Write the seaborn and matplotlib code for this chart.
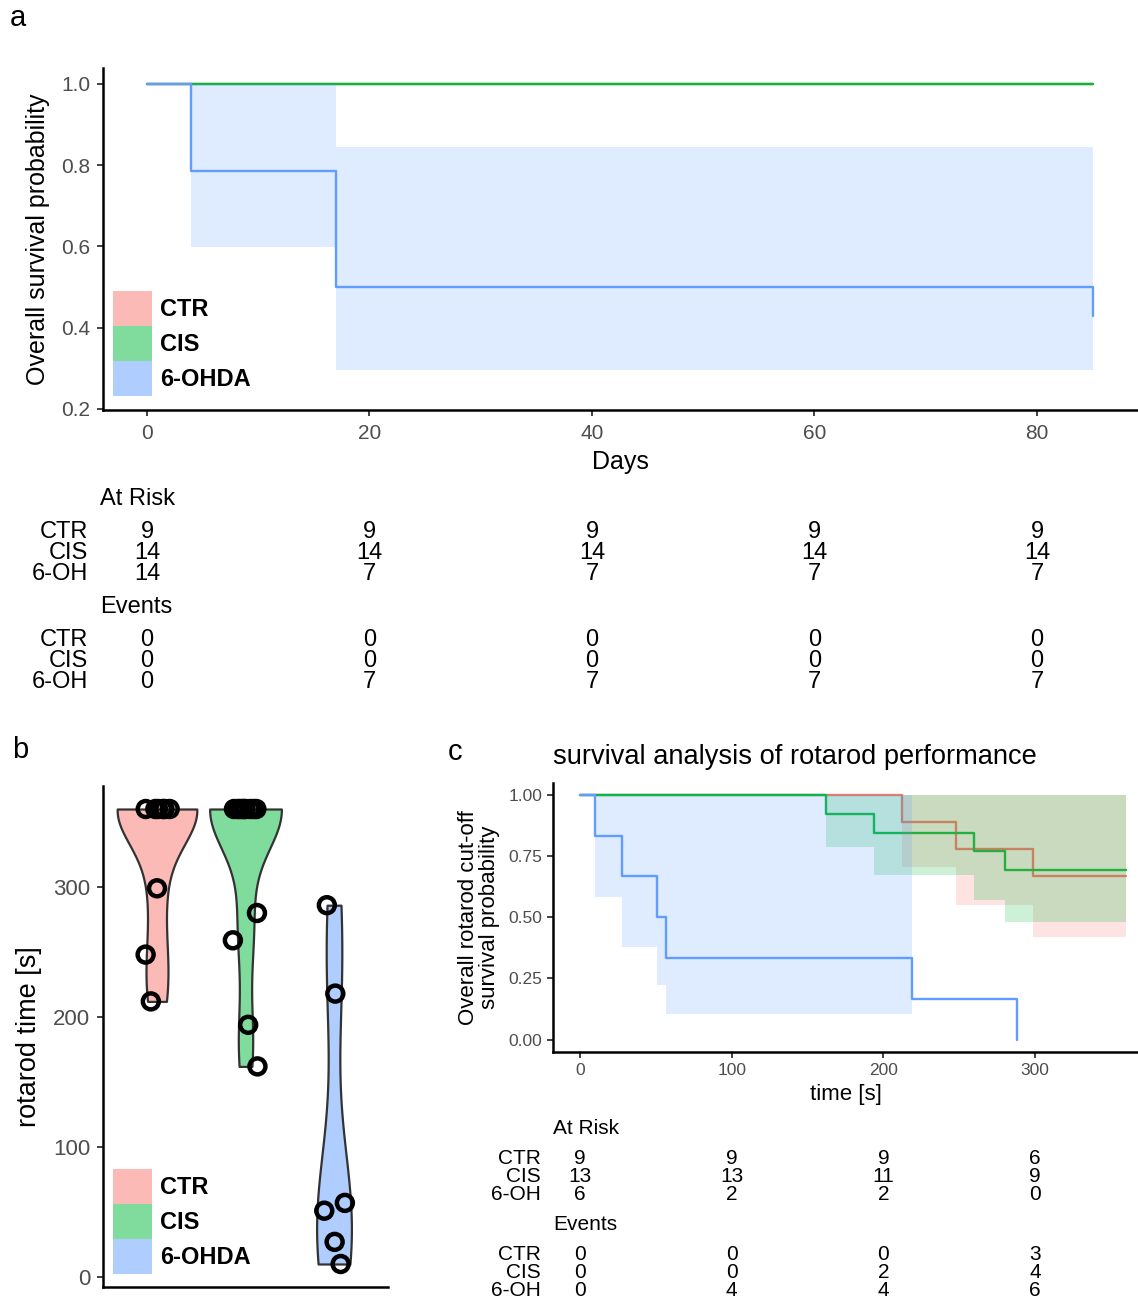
import matplotlib
matplotlib.use("Agg")
import matplotlib.pyplot as plt
import matplotlib.transforms as mtrans
from matplotlib.patches import Patch
import numpy as np
import pandas as pd
import seaborn as sns

# ── Data ─────────────────────────────────────────────────────────────────────
GROUPS = ["CTR", "CIS", "6-OHDA"]
ROW_LABELS = ["CTR", "CIS", "6-OH"]
LINE_COLORS = ["#F8766D", "#00BA38", "#619CFF"]
SOFT_COLORS = ["#FBBAB6", "#80DC9C", "#B0CDFF"]   # legend / violin fills

# (a) overall survival, days
a_ctr_t, a_ctr_s = [0, 85], [1.0, 1.0]
a_cis_t, a_cis_s = [0, 85], [1.0, 1.0]
a_ohda_t, a_ohda_s = [0, 4, 17, 85], [1.0, 0.786, 0.5, 0.429]
a_ohda_lo = [1.0, 0.598, 0.296, 0.296]
a_ohda_up = [1.0, 1.0, 0.845, 0.845]
a_ticks = [0, 20, 40, 60, 80]
a_risk = [[9, 9, 9, 9, 9], [14, 14, 14, 14, 14], [14, 7, 7, 7, 7]]
a_events = [[0, 0, 0, 0, 0], [0, 0, 0, 0, 0], [0, 7, 7, 7, 7]]

# (b) rotarod time per animal [s]
ctr_times = [360, 360, 360, 360, 360, 360, 299, 248, 212]
cis_times = [360, 360, 360, 360, 360, 360, 360, 360, 360, 280, 259, 194, 162]
ohda_times = [286, 218, 57, 51, 27, 10]

# (c) rotarod cut-off survival
c_ctr_t = [0, 212, 248, 299, 360]
c_ctr_s = [1.0, 0.889, 0.778, 0.667, 0.667]
c_ctr_lo = [1.0, 0.707, 0.550, 0.420, 0.420]
c_cis_t = [0, 162, 194, 260, 280, 360]
c_cis_s = [1.0, 0.923, 0.846, 0.769, 0.692, 0.692]
c_cis_lo = [1.0, 0.789, 0.673, 0.570, 0.482, 0.482]
c_ohda_t = [0, 10, 28, 51, 57, 219, 288]
c_ohda_s = [1.0, 0.833, 0.667, 0.5, 0.333, 0.167, 0.0]
c_ohda_ci_t = [0, 10, 28, 51, 57, 219]
c_ohda_lo = [1.0, 0.584, 0.379, 0.225, 0.106, 0.106]
c_ticks = [0, 100, 200, 300]
c_risk = [[9, 9, 9, 6], [13, 13, 11, 9], [6, 2, 2, 0]]
c_events = [[0, 0, 0, 3], [0, 0, 2, 4], [0, 4, 4, 6]]

# ── Style ────────────────────────────────────────────────────────────────────
sns.set_style("ticks")
plt.rcParams["font.family"] = ["Liberation Sans", "DejaVu Sans"]
plt.rcParams["text.color"] = "black"
plt.rcParams["axes.labelcolor"] = "black"
TICK_GREY = "#4D4D4D"

W, H = 1138, 1303
fig = plt.figure(figsize=(W / 100, H / 100), dpi=100)


def fx(px):
    return px / W


def fy(py):
    return 1 - py / H


def style_ax(ax, tick_size, xpad, ypad):
    sns.despine(ax=ax)
    for s in ("left", "bottom"):
        ax.spines[s].set_linewidth(1.8)
        ax.spines[s].set_color("black")
    ax.tick_params(length=4, width=1.3, color="#333333", labelcolor=TICK_GREY,
                   labelsize=tick_size)
    ax.tick_params(axis="x", pad=xpad)
    ax.tick_params(axis="y", pad=ypad)


def km_lines(ax, steps):
    for (t, s), col in zip(steps, LINE_COLORS):
        sns.lineplot(x=t, y=s, drawstyle="steps-post", color=col, lw=1.7,
                     estimator=None, ax=ax)


def km_band(ax, t, lo, up, col):
    # ribbons sit above the step lines, as in the original
    ax.fill_between(t, lo, up, step="post", color=col, alpha=0.2, lw=0,
                    zorder=2.5)


def legend(ax, top_px):
    handles = [Patch(facecolor=c, lw=0) for c in SOFT_COLORS]
    ax.legend(handles, GROUPS, loc="upper left",
              bbox_to_anchor=(fx(113), fy(top_px)), bbox_transform=fig.transFigure,
              frameon=False, borderpad=0, borderaxespad=0, labelspacing=0,
              handlelength=1.65, handleheight=1.9, handletextpad=0.35,
              prop={"weight": "bold", "size": 17})


def risk_table(ax, ticks, risk, events, ys, lab_x, head_x, size):
    tr = mtrans.blended_transform_factory(ax.transData, fig.transFigure)
    blocks = [("At Risk", risk, ys[0]), ("Events", events, ys[1])]
    for title, table, (hy, rows) in blocks:
        fig.text(fx(head_x), fy(hy), title, ha="left", va="center", fontsize=size)
        for lab, vals, ry in zip(ROW_LABELS, table, rows):
            fig.text(fx(lab_x), fy(ry), lab, ha="right", va="center", fontsize=size)
            for t, v in zip(ticks, vals):
                ax.text(t, fy(ry), str(v), transform=tr, ha="center", va="center",
                        fontsize=size, clip_on=False)


# ── (a) overall survival ─────────────────────────────────────────────────────
ax_a = fig.add_axes([fx(103), fy(410), fx(1138) - fx(103), (410 - 68) / H])
km_lines(ax_a, [(a_ctr_t, a_ctr_s), (a_cis_t, a_cis_s), (a_ohda_t, a_ohda_s)])
km_band(ax_a, a_ohda_t, a_ohda_lo, a_ohda_up, LINE_COLORS[2])
ax_a.set_xlim(-3.955, 89.08)
ax_a.set_ylim(0.1975, 1.039)
ax_a.set_xticks(a_ticks)
ax_a.set_yticks([0.2, 0.4, 0.6, 0.8, 1.0])
ax_a.set_yticklabels(["0.2", "0.4", "0.6", "0.8", "1.0"])
style_ax(ax_a, 15, 6, 5)
ax_a.set_xlabel("Days", fontsize=18, labelpad=5)
ax_a.set_ylabel("Overall survival probability", fontsize=18, labelpad=8)
legend(ax_a, 291)
risk_table(ax_a, a_ticks, a_risk, a_events,
           [(499, [532, 553, 574]), (607, [640, 661, 682])],
           lab_x=88, head_x=100, size=17)

# ── (b) rotarod violins ──────────────────────────────────────────────────────
df_b = pd.DataFrame({
    "group": ["CTR"] * len(ctr_times) + ["CIS"] * len(cis_times)
             + ["6-OHDA"] * len(ohda_times),
    "time": ctr_times + cis_times + ohda_times,
})
ax_b = fig.add_axes([fx(103), fy(1287), (388 - 103) / W, (1287 - 786) / H])
sns.violinplot(data=df_b, x="group", y="time", order=GROUPS, hue="group",
               hue_order=GROUPS, palette=SOFT_COLORS, saturation=1, cut=0,
               inner=None, density_norm="area", common_norm=True, width=0.9,
               bw_adjust=0.75, linewidth=1.6, linecolor="#333333",
               legend=False, ax=ax_b)
np.random.seed(7)
sns.stripplot(data=df_b, x="group", y="time", order=GROUPS, jitter=0.15,
              color="black", facecolor="none", edgecolor="black",
              linewidth=3.2, size=11.5, ax=ax_b, zorder=3)
ax_b.set_xlim(-0.61, 2.61)
ax_b.set_ylim(-7.7, 377.7)
ax_b.set_yticks([0, 100, 200, 300])
style_ax(ax_b, 16, 4, 5)
ax_b.set_xticks([])
ax_b.set_xlabel("")
ax_b.set_ylabel("rotarod time [s]", fontsize=19.5, labelpad=8)
legend(ax_b, 1169)

# ── (c) rotarod cut-off survival ─────────────────────────────────────────────
ax_c = fig.add_axes([fx(553), fy(1052), (1138 - 553) / W, (1052 - 783) / H])
km_lines(ax_c, [(c_ctr_t, c_ctr_s), (c_cis_t, c_cis_s), (c_ohda_t, c_ohda_s)])
for t, lo, col in [(c_ctr_t, c_ctr_lo, LINE_COLORS[0]),
                   (c_cis_t, c_cis_lo, LINE_COLORS[1]),
                   (c_ohda_ci_t, c_ohda_lo, LINE_COLORS[2])]:
    km_band(ax_c, t, lo, [1.0] * len(t), col)
ax_c.set_xlim(-17.8, 367.9)
ax_c.set_ylim(-0.051, 1.049)
ax_c.set_xticks(c_ticks)
ax_c.set_yticks([0, 0.25, 0.5, 0.75, 1.0])
ax_c.set_yticklabels(["0.00", "0.25", "0.50", "0.75", "1.00"])
style_ax(ax_c, 12.5, 4, 3.5)
ax_c.set_xlabel("time [s]", fontsize=16, labelpad=4)
ax_c.set_ylabel("Overall rotarod cut-off\nsurvival probability", fontsize=16,
                labelpad=6, linespacing=1.0)
fig.text(fx(553), fy(757), "survival analysis of rotarod performance",
         ha="left", va="center", fontsize=19.6)
risk_table(ax_c, c_ticks, c_risk, c_events,
           [(1128, [1159, 1177, 1195]), (1224, [1254, 1272, 1291])],
           lab_x=541, head_x=553, size=15)

# ── panel letters ────────────────────────────────────────────────────────────
for lab, x, y in [("a", 18, 18), ("b", 20, 750), ("c", 455, 752)]:
    fig.text(fx(x), fy(y), lab, ha="center", va="center", fontsize=21)

fig.savefig("out.png", dpi=100, facecolor="white")
plt.close(fig)
